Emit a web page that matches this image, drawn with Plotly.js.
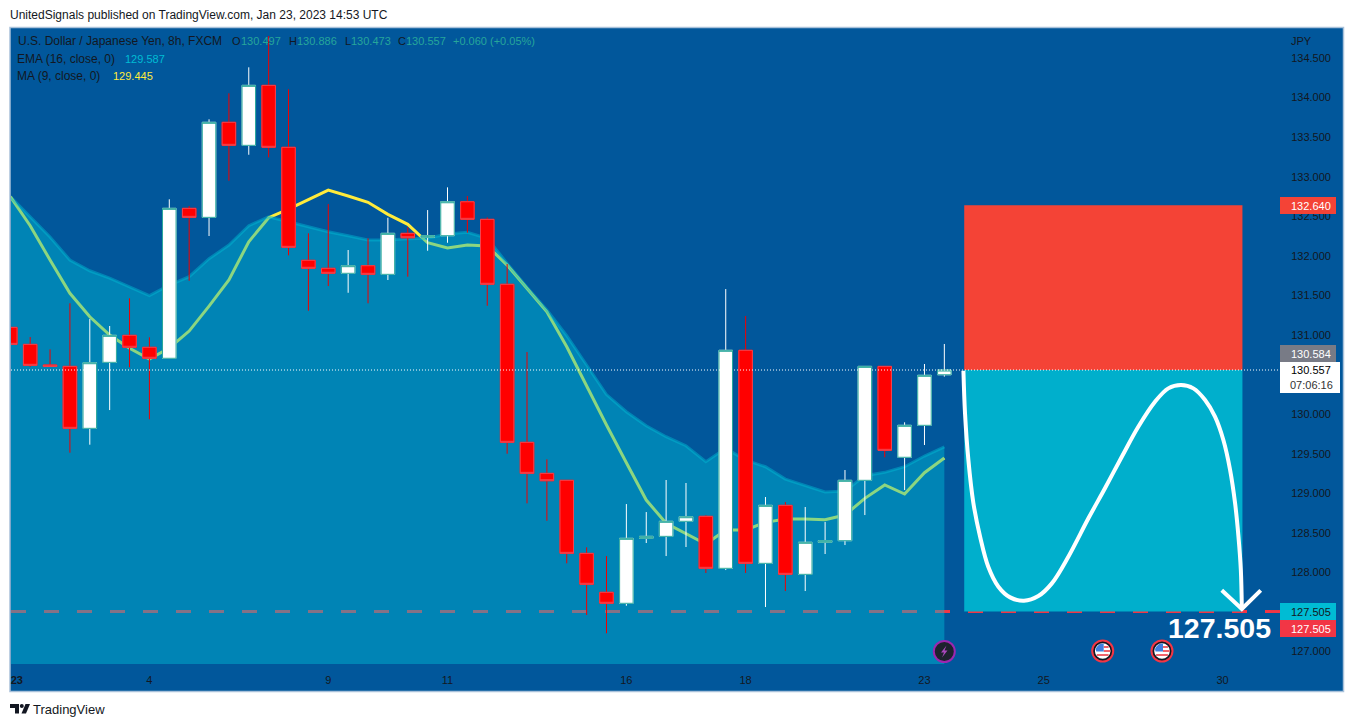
<!DOCTYPE html>
<html><head><meta charset="utf-8">
<script src="https://cdn.plot.ly/plotly-3.0.1.min.js"></script>
<style>html,body{margin:0;padding:0;background:#fff}#c{width:1354px;height:727px}</style>
</head><body><div id="c"></div>
<script>
const opens=[131.096,130.881,130.620,130.603,129.820,130.654,130.995,130.844,130.705,132.600,132.486,133.687,133.396,134.154,133.371,131.943,131.842,131.779,131.875,131.766,132.284,132.234,132.254,132.683,132.461,131.640,129.643,129.251,129.163,128.240,127.748,127.609,128.430,128.455,128.645,128.708,128.051,130.806,128.114,128.847,127.975,128.380,128.400,129.163,130.603,129.454,129.858,130.497];
const highs=[131.096,130.974,130.818,131.400,131.201,131.113,131.463,130.970,132.714,132.629,133.725,134.053,134.382,134.777,134.104,132.284,132.654,132.073,132.221,132.481,132.360,132.578,132.865,132.755,132.486,131.896,130.784,129.428,129.163,128.316,128.206,128.863,128.762,129.167,129.129,128.721,131.580,131.239,128.952,128.889,128.826,128.636,129.293,130.603,130.603,129.896,130.633,130.886];
const lows=[130.881,130.598,130.603,129.512,129.613,130.051,130.591,129.934,130.705,131.685,132.250,132.949,133.277,133.244,132.006,131.306,131.618,131.533,131.400,131.694,131.736,132.064,132.165,132.292,131.369,129.499,128.872,128.652,128.114,127.461,127.230,127.578,128.371,128.206,128.320,127.992,128.029,127.992,127.562,127.764,127.764,128.232,128.345,128.724,129.454,129.040,129.609,130.473];
const closes=[130.881,130.616,130.603,129.820,130.649,130.995,130.844,130.705,132.600,132.486,133.687,133.396,134.154,133.371,132.107,131.842,131.779,131.875,131.766,132.284,132.228,132.254,132.683,132.461,131.640,129.643,129.251,129.158,128.240,127.849,127.609,128.430,128.455,128.645,128.703,128.051,130.806,128.114,128.847,127.975,128.380,128.400,129.163,130.603,129.542,129.858,130.490,130.557];
const ema16=[132.749,132.490,132.237,131.947,131.811,131.719,131.609,131.496,131.631,131.736,131.963,132.136,132.380,132.494,132.431,132.367,132.304,132.254,132.199,132.199,132.216,132.221,132.275,132.297,132.221,131.905,131.602,131.315,130.990,130.620,130.247,130.030,129.853,129.714,129.600,129.398,129.567,129.419,129.335,129.179,129.095,129.015,129.028,129.221,129.264,129.335,129.470,129.587];
const ma9=[132.747,132.380,131.947,131.526,131.230,130.999,130.831,130.696,130.835,131.049,131.365,131.694,132.178,132.481,132.591,132.714,132.831,132.755,132.676,132.524,132.398,132.165,132.098,132.136,132.124,131.883,131.589,131.293,130.851,130.346,129.862,129.385,128.914,128.620,128.493,128.358,128.535,128.535,128.632,128.674,128.674,128.665,128.724,128.935,129.104,128.990,129.259,129.445];
const pathBars=[47.96,48.04,48.21,48.46,48.80,49.21,49.72,50.31,51.01,51.73,52.41,53.24,54.25,55.09,55.93,56.76,57.60,58.27,58.91,59.53,60.12,60.62,61.04,61.38,61.63,61.80,61.92,61.97];
const pathPrices=[130.548,130.013,129.419,128.876,128.450,128.071,127.819,127.684,127.642,127.701,127.861,128.198,128.683,129.066,129.461,129.840,130.156,130.325,130.367,130.325,130.178,129.967,129.672,129.293,128.872,128.450,128.029,127.537];
const arrowBars=[60.96,61.97,62.92];
const arrowPrices=[127.773,127.537,127.773];
const stopPrice=132.640, entryPrice=130.557, targetPrice=127.505;
const boxBars=[48,62];
const tickBars=[0.33,7,16,22,31,37,46,52,61];
const tickLabels=['<b>23</b>','4','9','11','16','18','23','25','30'];
const priceTicks=[127,128,128.5,129,129.5,130,131,131.5,132,132.5,133,133.5,134,134.5];

const bars=opens.map((_,i)=>i);
const FONT='"Liberation Sans", Arial, sans-serif', DARK='#131722', BG='#01579b';
const L=11,R=1280,T=29,B=664;
const px=x=>(x-L)/(R-L), py=y=>1-(y-T)/(B-T);

const ann=(text,x,y,color,size,extra)=>Object.assign({text,x:px(x-1),y:py(y),xref:'paper',yref:'paper',xanchor:'left',yanchor:'middle',showarrow:false,
  font:{family:FONT,size:size||11,color:color||DARK},borderpad:0},extra||{});
const rect=(x0,y0,x1,y1,fill,line,layer)=>({type:'rect',xref:'paper',yref:'paper',x0:px(x0),x1:px(x1),y0:py(y0),y1:py(y1),fillcolor:fill,line:line||{width:0},layer:layer||'above'});
const circ=(cx,cy,r,fill,line)=>({type:'circle',xref:'paper',yref:'paper',x0:px(cx-r),x1:px(cx+r),y0:py(cy-r),y1:py(cy+r),fillcolor:fill,line:line||{width:0},layer:'above'});
const poly=(pts,fill)=>({type:'path',xref:'paper',yref:'paper',path:'M'+pts.map(p=>px(p[0])+','+py(p[1])).join('L')+'Z',fillcolor:fill,line:{width:0},layer:'above'});

const candle=(o,h,l,c,upLine,dnLine,z)=>({type:'candlestick',x:bars,open:o,high:h,low:l,close:c,hoverinfo:'skip',showlegend:false,zorder:z,
  increasing:{line:{color:upLine,width:1},fillcolor:'#ffffff'},decreasing:{line:{color:dnLine,width:1},fillcolor:'#ff0000'}});
const hLine=(price,style,z)=>({type:'scatter',mode:'lines',x:[0.035,63.89],y:[price,price],line:style,hoverinfo:'skip',showlegend:false,zorder:z});
const filled=(p0,p1,color,z)=>({type:'scatter',mode:'lines',x:[boxBars[0],boxBars[1],boxBars[1],boxBars[0],boxBars[0]],y:[p0,p0,p1,p1,p0],fill:'toself',fillcolor:color,line:{width:0},hoverinfo:'skip',showlegend:false,zorder:z});

const data=[
 hLine(targetPrice,{color:'#f23645',width:3,dash:'15px,18px'},0),
 {type:'scatter',mode:'lines',x:bars,y:ma9,line:{color:'#ffeb3b',width:3},hoverinfo:'skip',showlegend:false,zorder:1},
 {type:'scatter',mode:'lines',x:bars,y:ema16,fill:'tozeroy',fillcolor:'rgba(0,188,212,0.45)',line:{color:'rgba(0,188,212,0.45)',width:3},hoverinfo:'skip',showlegend:false,zorder:2},
 candle(opens,highs,lows,closes,'#ffffff','#f00000',3),
 candle(opens,opens.map((o,i)=>Math.max(o,closes[i])),opens.map((o,i)=>Math.min(o,closes[i])),closes,'#26a69a','#f2444f',4),
 filled(entryPrice,stopPrice,'#f44336',5),
 filled(targetPrice,entryPrice,'#00afcc',6),
 {type:'scatter',mode:'lines',x:pathBars,y:pathPrices,line:{color:'#ffffff',width:4,shape:'spline',smoothing:1},hoverinfo:'skip',showlegend:false,zorder:7},
 {type:'scatter',mode:'lines',x:arrowBars,y:arrowPrices,line:{color:'#ffffff',width:4},hoverinfo:'skip',showlegend:false,zorder:8},
 hLine(entryPrice,{color:'#ffffff',width:1,dash:'1px,2px'},9)
];

const LBL=12, VAL=11, UP='#26a69a';
const shapes=[rect(10,27.5,1343.5,691.5,BG,{color:'#a9c1da',width:1.5},'below')];
const annotations=[
 ann('UnitedSignals published on TradingView.com, Jan 23, 2023 14:53 UTC',10,15,DARK,12),
 ann('TradingView',33,709,DARK,13),
 ann('U.S. Dollar / Japanese Yen, 8h, FXCM',18,41,DARK,LBL),
 ann('O',232,41,DARK,VAL),ann('130.497',241,41,UP,VAL),
 ann('H',288.5,41,DARK,VAL),ann('130.886',297,41,UP,VAL),
 ann('L',344.5,41,DARK,VAL),ann('130.473',351,41,UP,VAL),
 ann('C',397.5,41,DARK,VAL),ann('130.557',406,41,UP,VAL),
 ann('+0.060 (+0.05%)',453,41,UP,VAL),
 ann('EMA (16, close, 0)',17,59,DARK,LBL),ann('129.587',124.5,59,'#00bcd4',VAL),
 ann('MA (9, close, 0)',17,76,DARK,LBL),ann('129.445',112.5,76,'#ffeb3b',VAL),
 ann('JPY',1291,41),
 ann('127.505',1168,628,'#ffffff',28.5,{font:{family:FONT,size:28.5,color:'#ffffff',weight:700}})
];
// price-axis tags
[['132.640',197,214,1336,'#f44336','#ffffff'],['130.584',345,362,1336,'#787b86','#ffffff'],
 ['127.505',603,620,1336,'#00bcd4',DARK],['127.505',620,637,1336,'#f23645','#ffffff']].forEach(t=>{
  shapes.push(rect(1280,t[1],t[3],t[2],t[4]));
  annotations.push(ann(t[0],1290.5,(t[1]+t[2])/2,t[5]));
});
shapes.push(rect(1280,362,1340,393,'#ffffff'));
annotations.push(ann('130.557',1290.5,370,'#000000'));
annotations.push(ann('07:06:16',1289.5,384.5,'#333333'));
// event badges
shapes.push(circ(944.3,651.5,10.5,'#1e222d',{color:'#9c27b0',width:2}));
shapes.push(poly([[946.5,645.5],[941,652.5],[944,652.5],[942,657.5],[947.5,650.5],[944.5,650.5]],'#ab47bc'));
[1102.7,1162].forEach(cx=>{
  const cy=651;
  shapes.push(circ(cx,cy,10.5,'#131722',{color:'#f23645',width:2}));
  shapes.push(circ(cx,cy,7.8,'#ffffff'));
  [[-5,-3,1],[-1,1,1],[3,5,-7]].forEach(s=>{
    const hw=Math.sqrt(60-Math.max(s[0]*s[0],s[1]*s[1]));
    shapes.push(rect(cx+Math.max(s[2],-hw),cy+s[0],cx+hw,cy+s[1],'#f0636b'));
  });
  shapes.push(poly([[cx-6.5,cy+0.5],[cx+1,cy+0.5],[cx+1,cy-7.5],[cx-3,cy-7],[cx-6,cy-4],[cx-7,cy-2]],'#3f7fe0'));
});
// TradingView mark
shapes.push(poly([[10,704],[19,704],[19,713.5],[15,713.5],[15,708],[10,708]],DARK));
shapes.push(circ(21.8,706,2,DARK));
shapes.push(poly([[25.5,704],[30,704],[26,713.5],[21.5,713.5]],DARK));

const layout={
 width:1354,height:727,margin:{l:L,r:1354-R,t:T,b:727-B,pad:0},
 paper_bgcolor:'#ffffff',plot_bgcolor:'rgba(0,0,0,0)',showlegend:false,hovermode:false,dragmode:false,
 boxgap:0.32,boxgroupgap:0,
 font:{family:FONT,size:11,color:DARK},
 xaxis:{type:'linear',range:[0.035,63.89],tickmode:'array',tickvals:tickBars,ticktext:tickLabels,showgrid:false,zeroline:false,
   showline:true,linecolor:'#0a4c86',linewidth:1,ticks:'',ticklabelstandoff:6,tickfont:{family:FONT,size:11,color:DARK},rangeslider:{visible:false},fixedrange:true},
 yaxis:{side:'right',range:[126.842,134.866],tickmode:'array',tickvals:priceTicks,ticktext:priceTicks.map(v=>v.toFixed(3)),showgrid:false,zeroline:false,
   showline:true,linecolor:'#0a4c86',linewidth:1,ticks:'',ticklabelstandoff:8,tickfont:{family:FONT,size:11,color:DARK},fixedrange:true},
 shapes,annotations
};
Plotly.newPlot('c',data,layout,{displayModeBar:false,staticPlot:true});
</script></body></html>
